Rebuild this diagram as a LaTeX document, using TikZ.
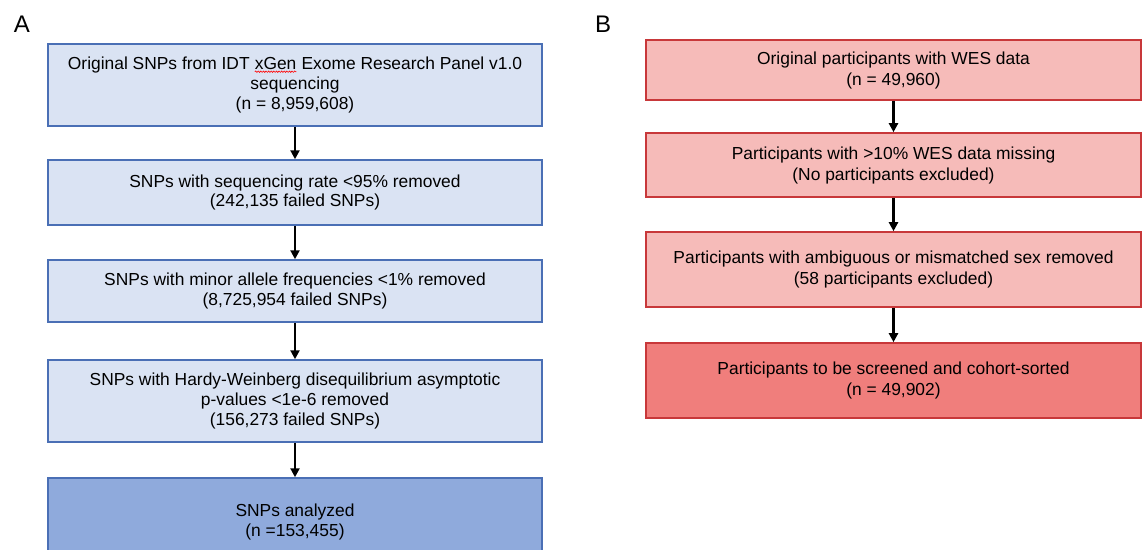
\documentclass[tikz,border=0pt]{standalone}
\usepackage{fontspec}
\setmainfont{Liberation Sans}
\usetikzlibrary{arrows.meta,decorations.pathmorphing}
\definecolor{bluefill}{HTML}{DAE3F3}
\definecolor{bluedark}{HTML}{8FAADC}
\definecolor{blueline}{HTML}{4A6FB5}
\definecolor{redfill}{HTML}{F6BBB9}
\definecolor{reddark}{HTML}{F07E7C}
\definecolor{redline}{HTML}{C8383A}
\newcommand\wavyword[1]{\tikz[baseline=(w.base)]{\node[draw=none,fill=none,inner sep=0pt,minimum width=0pt,minimum height=0pt,outer sep=0pt](w){#1};\draw[red,line width=0.6pt,decorate,decoration={snake,amplitude=0.7pt,segment length=2.6pt}] ([yshift=-1.8pt]w.base west) -- ([yshift=-1.8pt]w.base east);}}
\begin{document}
\begin{tikzpicture}[x=1pt,y=-1pt,
  boxa/.style={draw=blueline,fill=bluefill,line width=1.5pt,minimum width=494pt,align=center,inner sep=0pt,font=\fontsize{17.4}{19.6}\selectfont},
  boxaf/.style={boxa,fill=bluedark},
  boxb/.style={draw=redline,fill=redfill,line width=1.6pt,minimum width=495pt,align=center,inner sep=0pt,font=\fontsize{17.4}{21}\selectfont},
  boxbf/.style={boxb,fill=reddark},
  arr/.style={-{Triangle[width=9pt,length=9pt]},line width=2.2pt,black},
  panel/.style={font=\fontsize{24}{28}\selectfont,anchor=base,inner sep=0pt}]
\useasboundingbox (0,0) rectangle (1146,549);
\node[panel] (pa) at (22,32) {A};
\node[panel] (pb) at (603,32) {B};
% Panel A
\node[boxa,minimum height=82pt] (a1) at (295,85) {Original SNPs from IDT \wavyword{xGen} Exome Research Panel v1.0\\sequencing\\(n = 8,959,608)};
\node[boxa,minimum height=65pt] (a2) at (295,192.5) {SNPs with sequencing rate <95\% removed\\(242,135 failed SNPs)};
\node[boxa,minimum height=62pt] (a3) at (295,291) {SNPs with minor allele frequencies <1\% removed\\(8,725,954 failed SNPs)};
\node[boxa,minimum height=82pt] (a4) at (295,401) {SNPs with Hardy-Weinberg disequilibrium asymptotic\\p-values <1e-6 removed\\(156,273 failed SNPs)};
\node[boxaf,minimum height=88pt] (a5) at (295,522) {SNPs analyzed\\(n =153,455)};
\draw[arr] (a1) -- (a2);
\draw[arr] (a2) -- (a3);
\draw[arr] (a3) -- (a4);
\draw[arr] (a4) -- (a5);
% Panel B
\node[boxb,minimum height=60pt] (b1) at (893.5,70) {Original participants with WES data\\(n = 49,960)};
\node[boxb,minimum height=64pt] (b2) at (893.5,165) {Participants with >10\% WES data missing\\(No participants excluded)};
\node[boxb,minimum height=75pt] (b3) at (893.5,269.5) {Participants with ambiguous or mismatched sex removed\\(58 participants excluded)};
\node[boxbf,minimum height=75pt] (b4) at (893.5,380.5) {Participants to be screened and cohort-sorted\\(n = 49,902)};
\draw[arr] (b1) -- (b2);
\draw[arr] (b2) -- (b3);
\draw[arr] (b3) -- (b4);
\end{tikzpicture}
\end{document}
